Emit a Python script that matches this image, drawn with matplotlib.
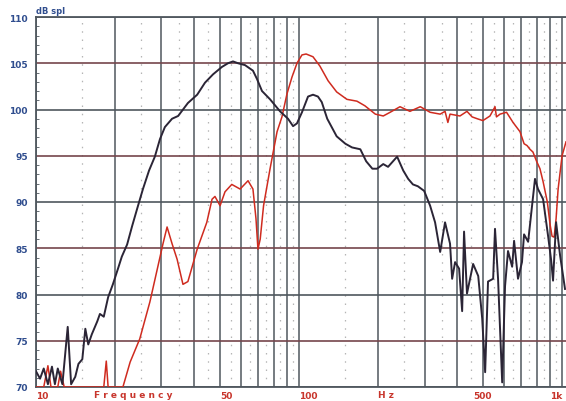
import numpy as np
import matplotlib.pyplot as plt

# --- datos ---
# curva negra (woofer)
freq_k = [10.0, 10.36, 10.7, 11.1, 11.5, 11.8, 12.1, 12.6, 13.2, 13.6, 14.1, 14.5, 15.0, 15.4,
          15.8, 16.3, 17.1, 17.5, 18.1, 18.8, 19.6, 20.5, 21.2, 22.2, 23.2, 24.2, 25.5, 26.9,
          28.3, 29.6, 30.9, 32.9, 34.7, 37.8, 41.0, 43.9, 47.1, 50.9, 53.7, 56.1, 58.6, 62.3,
          66.8, 69.2, 72.3, 77.6, 84.7, 90.8, 94.9, 98.2, 102.6, 108.2, 113, 118, 122, 128,
          139, 150, 159, 171, 180, 190, 198, 209, 218, 226, 236, 249, 260, 271, 283, 299,
          315, 329, 344, 359, 375, 382, 392, 406, 417, 424, 435, 459, 480, 497, 510, 523,
          547, 556, 571, 592, 607, 623, 646, 657, 680, 704, 717, 743, 769, 789, 810, 847,
          885, 908, 924, 949, 983, 1026]
spl_k = [71.7, 70.9, 72.0, 70.3, 72.2, 70.3, 72.0, 70.3, 76.5, 70.3, 71.1, 72.5, 73.0, 76.3,
         74.6, 75.7, 77.1, 77.9, 77.6, 79.7, 81.1, 82.8, 84.1, 85.4, 87.4, 89.2, 91.4, 93.4,
         94.9, 96.8, 98.1, 99.0, 99.3, 100.7, 101.6, 102.9, 103.8, 104.6, 105.0, 105.2, 105.0, 104.8,
         104.2, 103.3, 102.0, 101.1, 99.8, 99.0, 98.2, 98.5, 99.7, 101.4, 101.6, 101.4, 100.8, 99.0,
         97.1, 96.3, 95.9, 95.7, 94.4, 93.6, 93.6, 94.1, 93.8, 94.3, 94.9, 93.4, 92.5, 91.9, 91.7, 91.2,
         89.6, 87.8, 84.6, 87.8, 85.5, 81.7, 83.5, 82.8, 78.2, 86.8, 80.1, 83.3, 82.0, 77.4, 71.6, 81.4,
         81.7, 87.1, 81.7, 70.5, 80.9, 84.7, 83.0, 85.8, 81.7, 83.5, 86.5, 85.7, 89.6, 92.5, 91.4, 90.3,
         86.3, 83.8, 81.5, 87.8, 84.2, 80.6]

# curva roja (tweeter / medio)
freq_r = [10.0, 10.7, 11.1, 11.4, 12.1, 12.4, 12.8, 17.5, 18.1, 18.5, 18.8, 21.4, 22.8, 24.8,
          27.1, 29.1, 30.4, 31.5, 32.9, 34.4, 36.2, 37.8, 41.0, 44.6, 46.7, 47.9, 50.1, 52.3,
          55.5, 59.7, 64.0, 66.8, 68.6, 69.8, 71.2, 73.3, 77.6, 82.5, 86.1, 90.0, 94.0, 98.2,
          102.6, 106.4, 113, 120, 129, 139, 152, 166, 178, 195, 209, 222, 242, 264, 289, 315,
          344, 359, 368, 375, 409, 435, 455, 476, 500, 532, 556, 563, 581, 615, 651, 692,
          717, 736, 755, 775, 800, 824, 847, 879, 900, 916, 933, 949, 966, 1000, 1035]
spl_r = [70.0, 70.0, 72.3, 70.0, 70.0, 71.7, 70.0, 70.0, 70.0, 72.8, 70.0, 70.0, 72.7, 75.2,
         79.2, 83.1, 85.5, 87.3, 85.5, 83.8, 81.1, 81.4, 84.9, 87.8, 90.3, 90.6, 89.6, 91.1,
         91.9, 91.4, 92.3, 91.4, 88.2, 84.9, 86.0, 89.6, 93.6, 97.6, 99.2, 101.7, 103.5, 105.0,
         105.9, 106.0, 105.7, 104.7, 103.1, 101.9, 101.1, 100.9, 100.4, 99.5, 99.3, 99.7, 100.3, 99.8, 100.3, 99.7,
         99.5, 99.8, 98.6, 99.5, 99.3, 99.8, 99.2, 99.0, 98.8, 99.3, 100.3, 99.2, 99.5, 99.7, 98.6, 97.6,
         96.3, 96.1, 95.7, 95.4, 94.4, 93.6, 92.2, 90.0, 87.6, 86.3, 86.2, 88.2, 91.4, 95.0, 96.5]

y_ticks = [70, 75, 80, 85, 90, 95, 100, 105, 110]
x_major = [10, 20, 30, 40, 50, 60, 70, 80, 90, 100, 200, 300, 400, 500, 600, 700, 800, 900, 1000]
x_minor = [15, 25, 35, 45, 55, 65, 75, 85, 95, 150, 250, 350, 450, 550, 650, 750, 850, 950]
x_labels = ['10', '50', '100', '500', '1k']
x_label_pos = [10, 50, 100, 500, 1000]

blue = '#2f4d8e'
red_txt = '#c8352c'
grid_dark = '#4f575e'
grid_red = '#75464c'

fig = plt.figure(figsize=(5.66, 4.02), dpi=100)
ax = fig.add_axes([36 / 566, 14 / 402, 530 / 566, 370 / 402])
ax.set_xscale('log')
ax.set_xlim(10, 1035)
ax.set_ylim(70, 110)

# rejilla
for f in x_minor:
    ax.axvline(f, color='#b5b5b5', lw=0.9, ls=(0, (1.2, 5.4)), zorder=1)
for f in x_major:
    ax.axvline(f, color=grid_dark, lw=1.1, zorder=1)
for v in y_ticks:
    c = grid_dark if v % 10 == 0 else grid_red
    ax.axhline(v, color=c, lw=1.2, zorder=1)

# curvas
ax.plot(freq_r, spl_r, color='#cf2b1f', lw=1.1, zorder=3)
ax.plot(freq_k, spl_k, color='#2b2536', lw=1.4, zorder=4)

# ejes y etiquetas
for s in ['top', 'bottom', 'left']:
    ax.spines[s].set_color(grid_dark)
    ax.spines[s].set_linewidth(1.3)
ax.spines['right'].set_visible(False)

ax.set_yticks(y_ticks)
ax.set_yticklabels([str(v) for v in y_ticks], color=blue, fontsize=6.5, fontweight='bold')
ax.set_yticks(np.arange(70, 111, 1), minor=True)
ax.tick_params(axis='y', which='major', length=0, pad=6)
ax.tick_params(axis='y', which='minor', length=2, direction='in', color=grid_dark)

ax.set_xticks(x_label_pos)
ax.set_xticks([], minor=True)
ax.set_xticklabels(x_labels, color=red_txt, fontsize=6.5, fontweight='bold')
ax.tick_params(axis='x', length=0, pad=3)
for lab, ha in zip(ax.get_xticklabels(), ['left', 'left', 'left', 'center', 'right']):
    lab.set_ha(ha)

ax.text(23.5, -0.008, 'F r e q u e n c y', transform=ax.get_xaxis_transform(),
        ha='center', va='top', color=red_txt, fontsize=6.5, fontweight='bold')
ax.text(200, -0.008, 'H z', transform=ax.get_xaxis_transform(),
        ha='left', va='top', color=red_txt, fontsize=6.5, fontweight='bold')
ax.text(0.0, 1.005, 'dB spl', transform=ax.transAxes, ha='left', va='bottom',
        color=blue, fontsize=6, fontweight='bold')

fig.savefig('out.png', dpi=100)
